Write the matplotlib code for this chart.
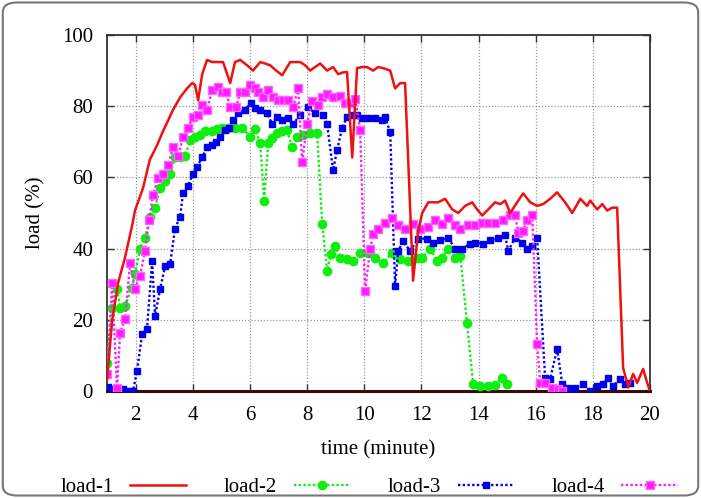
import matplotlib
matplotlib.use('Agg')
import matplotlib.pyplot as plt
from matplotlib.patches import FancyBboxPatch

# load-1 (red, solid)
red_t = [1.0, 1.18, 1.39, 1.63, 1.88, 1.98, 2.26, 2.5, 2.75, 2.96, 3.14, 3.31, 3.56, 3.8, 3.98,
         4.08, 4.19, 4.33, 4.5, 4.68, 4.85, 5.06, 5.31, 5.48, 5.66, 5.9, 6.11, 6.36, 6.53, 6.71,
         6.92, 7.13, 7.41, 7.76, 7.93, 8.11, 8.28, 8.46, 8.7, 8.91, 9.09, 9.26, 9.4, 9.58, 9.75,
         9.93, 10.1, 10.31, 10.49, 10.66, 10.91, 11.08, 11.26, 11.43, 11.71, 11.89, 12.03, 12.24,
         12.59, 12.83, 13.08, 13.29, 13.53, 13.78, 13.95, 14.13, 14.34, 14.58, 14.76, 14.93, 15.11,
         15.35, 15.56, 15.81, 16.05, 16.26, 16.51, 16.75, 17.03, 17.28, 17.56, 17.8, 17.91, 18.15,
         18.33, 18.5, 18.68, 18.85, 19.06, 19.24, 19.41, 19.55, 19.76, 19.9, 20.0]
red_y = [3, 19.7, 30.4, 37.5, 46.5, 50.7, 57, 65, 69, 73, 76, 79, 82.5, 85, 86.5,
         86, 81.7, 89, 93, 92.4, 92.4, 92.4, 86.5, 92.4, 93, 91.5, 90, 92.4, 92, 91.5,
         90, 88.7, 92.4, 92.4, 91.5, 90, 91, 92, 90, 91, 89, 89.5, 89.6, 65.6, 90.7,
         91, 91, 90, 91, 90.7, 90, 85, 86.5, 86.5, 31, 45, 50, 53,
         53, 54, 51, 50, 52, 53, 51, 49.3, 51, 53, 52.5, 53.5, 50,
         53, 55.5, 53, 52, 52.5, 54, 55.8, 53, 50, 54, 52, 53.5, 51,
         52.5, 50.7, 51.5, 51.5, 6.5, 1, 4.8, 2.3, 6.2, 2.3, 0]

# load-2 (green, circles)
green_t = [1.0, 1.18, 1.35, 1.46, 1.63, 1.88, 1.98, 2.16, 2.33, 2.51, 2.68, 2.86, 3.03, 3.21,
           3.38, 3.56, 3.73, 3.91, 4.08, 4.26, 4.43, 4.68, 4.85, 5.03, 5.24, 5.48, 5.73, 6.01,
           6.18, 6.36, 6.5, 6.64, 6.78, 6.95, 7.13, 7.3, 7.48, 7.65, 7.86, 8.11, 8.35, 8.53,
           8.7, 8.84, 8.98, 9.16, 9.4, 9.61, 9.86, 10.14, 10.38, 10.66, 10.98, 11.26, 11.54,
           11.85, 12.03, 12.31, 12.55, 12.73, 12.94, 13.18, 13.36, 13.6, 13.81, 14.06, 14.34,
           14.58, 14.83, 15.0]
green_y = [7.9, 23.4, 28.7, 23.4, 24, 29, 33, 40, 43, 49, 51.5, 57, 59, 61,
           65.6, 65.6, 66, 70.4, 71.3, 72, 73, 73, 73.5, 74, 74, 73.8, 74, 71.3,
           73.5, 69.6, 53.5, 69.6, 71, 72.4, 73, 73.2, 68.5, 71.3, 71.8, 72.4, 72.4, 47,
           33.8, 38.6, 40.8, 37.5, 37, 36.6, 38.9, 38.9, 37.5, 36, 38.9, 37, 36.6,
           37.5, 37.5, 40, 36.6, 37.5, 40, 37.5, 38, 19, 2, 1.4, 1.4,
           1.7, 3.7, 2]

# load-3 (blue, small squares)
blue_t = [1.04, 1.18, 1.35, 1.56, 1.74, 1.91, 2.05, 2.23, 2.4, 2.58, 2.68, 2.86, 3.03, 3.21,
          3.38, 3.56, 3.66, 3.84, 4.01, 4.15, 4.33, 4.5, 4.68, 4.82, 4.96, 5.13, 5.27, 5.41,
          5.59, 5.83, 6.04, 6.18, 6.36, 6.6, 6.78, 6.95, 7.13, 7.34, 7.51, 7.76, 8.04, 8.28,
          8.56, 8.7, 8.91, 9.05, 9.23, 9.4, 9.58, 9.75, 9.93, 10.14, 10.38, 10.63, 10.73,
          10.91, 11.08, 11.19, 11.36, 11.61, 11.89, 12.2, 12.41, 12.66, 12.94, 13.18, 13.43,
          13.71, 13.88, 14.16, 14.41, 14.69, 14.93, 15.04, 15.28, 15.53, 15.7, 15.88, 16.05,
          16.33, 16.51, 16.75, 16.93, 17.14, 17.38, 17.66, 17.91, 18.15, 18.36, 18.54, 18.71,
          18.96, 19.13, 19.31]
blue_y = [1, 0.5, 0, 0.5, 0, 0, 5.6, 16, 17.5, 36.6, 21, 28.7, 35, 35.8,
          45.6, 49, 55.5, 57.7, 61, 63, 65.6, 68.5, 69, 70, 71.3, 73.2, 74, 76,
          78, 79, 81, 79.4, 79, 78, 75, 77, 76, 76.6, 75, 77.5, 79.7, 78,
          77.5, 75, 62, 67.6, 74, 77, 77.5, 77.5, 76.6, 76.6, 76.6, 76, 77,
          72.7, 29.6, 39.4, 42, 39.4, 42.8, 42.8, 41.7, 42.3, 43, 40, 40,
          41.4, 41.7, 41.4, 42.3, 43, 43.7, 39.4, 43, 41.7, 40, 40.8, 43,
          3.7, 3.5, 11.8, 2, 0.8, 0.8, 2, 0, 1.4, 2, 3.7, 1.4,
          3.4, 2, 2.3]

# load-4 (magenta, squares)
mag_t = [1.0, 1.18, 1.35, 1.46, 1.63, 1.81, 1.98, 2.16, 2.33, 2.47, 2.61, 2.79, 2.96, 3.14,
         3.31, 3.49, 3.66, 3.84, 4.01, 4.19, 4.33, 4.5, 4.68, 4.89, 5.03, 5.17, 5.31, 5.52,
         5.66, 5.83, 6.01, 6.18, 6.29, 6.46, 6.64, 6.81, 6.99, 7.16, 7.34, 7.51, 7.69, 7.83,
         8.0, 8.18, 8.39, 8.53, 8.7, 8.91, 9.16, 9.33, 9.51, 9.68, 9.86, 10.03, 10.21, 10.31,
         10.49, 10.73, 10.98, 11.19, 11.43, 11.71, 11.96, 12.24, 12.48, 12.73, 12.94, 13.18,
         13.36, 13.64, 13.88, 14.13, 14.34, 14.58, 14.86, 15.11, 15.28, 15.39, 15.56, 15.7,
         15.88, 16.05, 16.16, 16.33, 16.58, 16.79, 16.93]
mag_y = [4.8, 30.4, 0.8, 16.3, 20.3, 36, 28.7, 32.4, 39.4, 47.9, 55, 59.7, 61, 63.4,
         68.5, 66, 71.3, 73.8, 77, 77.5, 80.3, 78.9, 84.5, 85.4, 84, 84, 79.7, 79.7,
         84, 84, 86, 85, 84, 82.5, 84.5, 82.5, 81.7, 81.7, 81.7, 79.7, 85, 64.2,
         75, 81.4, 80.3, 82.5, 83.5, 82.5, 83, 81, 80.8, 82, 73.2, 28, 40, 44,
         45.6, 47.3, 48.5, 46.5, 45.6, 47, 45.6, 46, 47.9, 47, 48.5, 46.5,
         45.6, 46.5, 46.5, 47.3, 47.3, 47.3, 47.9, 49.3, 49.3, 44.5, 45, 47.9,
         49.3, 13.2, 2.3, 2.3, 0.8, 0.5, 0]

FS = 15
plt.rcParams['font.family'] = ['Liberation Serif', 'DejaVu Serif']
plt.rcParams['font.size'] = FS

fig = plt.figure(figsize=(7.01, 4.98), dpi=100)
ax = fig.add_axes([107 / 701, 107 / 498, 543 / 701, 356 / 498])

dots = (0, (1, 1))
l2, = ax.plot(green_t, green_y, color='#10ee10', ls=dots, lw=1.7, marker='o', ms=6,
              mec='#10ee10', label='load-2', zorder=3)
l3, = ax.plot(blue_t, blue_y, color='#0000ee', ls=dots, lw=1.7, marker='s', ms=4.5,
              mec='#0000ee', label='load-3', zorder=4)
l4, = ax.plot(mag_t, mag_y, color='#ff1aff', ls=dots, lw=1.7, marker='s', ms=6,
              mec='#ff66ff', label='load-4', zorder=5)
l1, = ax.plot(red_t, red_y, color='#ee1111', lw=1.8, label='load-1', zorder=6)

ax.set_xlim(1, 20)
ax.set_ylim(0, 100)
ax.set_xticks(range(2, 21, 2))
ax.set_yticks(range(0, 101, 20))
ax.grid(True, color='#999999', ls=(0, (1, 1.5)), lw=0.9)
ax.tick_params(direction='in', top=True, right=True, length=5, width=1, colors='#333333',
               labelcolor='black', labelsize=FS)
ax.tick_params(axis='x', pad=11)
ax.tick_params(axis='y', pad=10)
for side in ['top', 'left', 'right']:
    ax.spines[side].set_color('#333333')
    ax.spines[side].set_linewidth(1.3)
ax.spines['bottom'].set_color('#3a0a0a')
ax.spines['bottom'].set_linewidth(2.2)

ax.set_xlabel('time (minute)', fontsize=FS, labelpad=11)
ax.set_ylabel('load (%)', fontsize=FS, labelpad=12)

ax.legend([l1, l2, l3, l4], ['load-1', 'load-2', 'load-3', 'load-4'], loc='center',
          bbox_to_anchor=(369 / 701, 11 / 498), bbox_transform=fig.transFigure, ncol=4,
          frameon=False, markerfirst=False, handlelength=2.7, handletextpad=0.8,
          columnspacing=1.8, numpoints=1, fontsize=FS)

frame = FancyBboxPatch((0.004, 0.005), 0.992, 0.99, boxstyle='round,pad=0,rounding_size=0.02',
                       transform=fig.transFigure, fill=False, ec='#777777', lw=1.5)
fig.patches.append(frame)

fig.savefig('out.png', dpi=100)
